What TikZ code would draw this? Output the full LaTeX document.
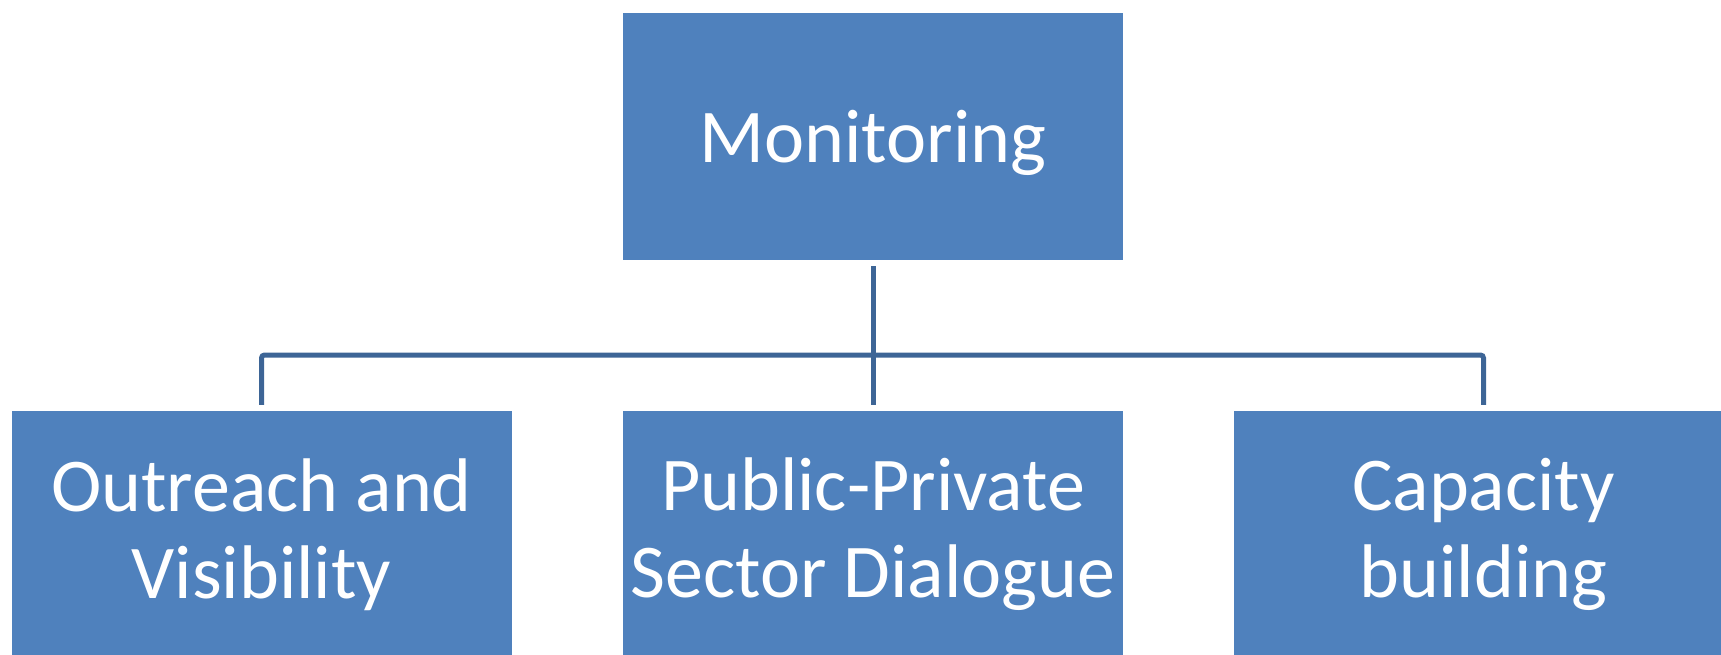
\documentclass[tikz,border=0pt]{standalone}
\usepackage{fontspec}
\setmainfont{Carlito}
\definecolor{boxblue}{HTML}{4F81BD}
\definecolor{connblue}{HTML}{3D6596}
\begin{document}
\begin{tikzpicture}[x=1pt,y=-1pt,
  orgbox/.style={fill=boxblue, draw=none, minimum width=500pt, minimum height=247pt,
    text=white, align=center, inner sep=0pt, font=\fontsize{76}{87}\selectfont},
  conn/.style={draw=connblue, line width=5pt, shorten <=6pt, shorten >=6pt}]
\useasboundingbox (0,0) rectangle (1721,654);
\clip (0,0) rectangle (1721,654);
\node[orgbox] (top) at (873,136.5) {\raisebox{-6pt}[\height][\depth]{Monitoring}};
\node[orgbox] (left) at (261.5,534.5) {Outreach and\\Visibility};
\node[orgbox] (mid) at (873,534.5) {Public-Private\\Sector Dialogue};
\node[orgbox] (right) at (1483.5,534.5) {Capacity\\building};
\coordinate (bar) at (873,355);
\draw[conn] (top.south) -- (mid.north);
\draw[conn, rounded corners=3pt] (left.north) |- (bar) -| (right.north);
\end{tikzpicture}
\end{document}
